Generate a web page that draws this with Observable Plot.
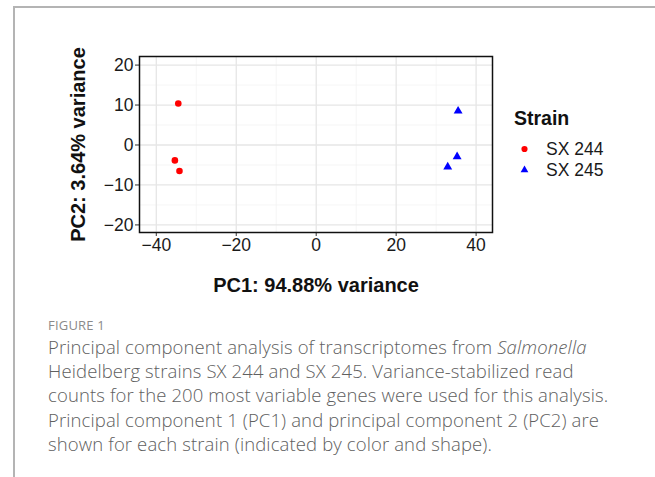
<!DOCTYPE html>
<html><head><meta charset="utf-8">
<script src="https://cdn.jsdelivr.net/npm/d3@7"></script>
<script src="https://cdn.jsdelivr.net/npm/@observablehq/plot@0.6"></script>
<style>
html,body{margin:0;padding:0;background:#fff}
body{width:655px;height:477px;overflow:hidden;position:relative;font-family:"Liberation Sans",Arial,sans-serif}
#frameL{position:absolute;left:13px;top:6px;width:2px;height:471px;background:#b4b4b4}
#frameT{position:absolute;left:13px;top:6px;width:642px;height:2px;background:#b4b4b4}
#chart{position:absolute;left:0;top:0}
#legend{position:absolute;left:0;top:0;width:655px;height:300px;pointer-events:none}
#caption{position:absolute;left:48px;top:316px;font-family:"Open Sans",sans-serif;font-weight:300;color:#606060;font-size:18.5px;letter-spacing:0.12px;line-height:24.2px}
#caption .fig{font-size:13px;font-weight:400;color:#8a8a8a;line-height:18px;margin-bottom:1px;letter-spacing:0.2px}
</style></head>
<body>
<div id="frameL"></div><div id="frameT"></div>
<div id="chart"></div>
<svg id="legend"></svg>
<div id="caption">
<div class="fig">FIGURE 1</div>
Principal component analysis of transcriptomes from <i>Salmonella</i><br>
Heidelberg strains SX 244 and SX 245. Variance-stabilized read<br>
counts for the 200 most variable genes were used for this analysis.<br>
Principal component 1 (PC1) and principal component 2 (PC2) are<br>
shown for each strain (indicated by color and shape).
</div>
<script>
// ---- data ----
const sampleStrain = ["SX 244", "SX 244", "SX 244", "SX 245", "SX 245", "SX 245"];
const pc1 = [-34.5, -35.35, -34.2, 35.5, 35.25, 32.9];
const pc2 = [10.4, -3.85, -6.5, 8.5, -2.9, -5.5];
const strains = ["SX 244", "SX 245"];
const strainColors = ["#ff0000", "#0000ff"];
const strainSymbols = ["circle", "triangle"];
const xTicks = [-40, -20, 0, 20, 40];
const xMinor = [-30, -10, 10, 30];
const yTicks = [-20, -10, 0, 10, 20];
const yMinor = [-15, -5, 5, 15];
const xTitle = "PC1: 94.88% variance";
const yTitle = "PC2: 3.64% variance";
const legendTitle = "Strain";

const rows = pc1.map((v, i) => ({pc1: v, pc2: pc2[i], strain: sampleStrain[i]}));

const chart = Plot.plot({
  width: 655, height: 300,
  marginLeft: 139, marginRight: 163, marginTop: 56, marginBottom: 68,
  x: {domain: [-44.2, 44.1]},
  y: {domain: [-21.9, 22.15]},
  color: {domain: strains, range: strainColors},
  symbol: {domain: strains, range: strainSymbols},
  style: {fontFamily: "'Liberation Sans', Arial, sans-serif", fontSize: "17.5px", color: "#1a1a1a", background: "transparent"},
  marks: [
    Plot.gridX(xMinor, {stroke: "#f0f0f0", strokeOpacity: 1, strokeWidth: 0.7}),
    Plot.gridY(yMinor, {stroke: "#f0f0f0", strokeOpacity: 1, strokeWidth: 0.7}),
    Plot.gridX(xTicks, {stroke: "#e6e6e6", strokeOpacity: 1, strokeWidth: 1.3}),
    Plot.gridY(yTicks, {stroke: "#e6e6e6", strokeOpacity: 1, strokeWidth: 1.3}),
    Plot.axisX(xTicks, {label: null, tickSize: 4, tickPadding: 2, stroke: "#333", fill: "#1a1a1a", fontSize: 17.5}),
    Plot.axisY(yTicks, {label: null, tickSize: 4, tickPadding: 2, stroke: "#333", fill: "#1a1a1a", fontSize: 17.5}),
    Plot.frame({stroke: "#111", strokeWidth: 1.5}),
    Plot.dot(rows, {x: "pc1", y: "pc2", fill: "strain", symbol: "strain", r: 3.3, stroke: "none"}),
    Plot.text([xTitle], {frameAnchor: "bottom", lineAnchor: "middle", textAnchor: "middle", dy: 53, fontSize: 20, fontWeight: "bold", fill: "#111"}),
    Plot.text([yTitle], {frameAnchor: "left", lineAnchor: "middle", textAnchor: "middle", rotate: -90, dx: -61, fontSize: 20, fontWeight: "bold", fill: "#111"})
  ]
});
document.getElementById("chart").appendChild(chart);

// ---- legend ----
const lg = d3.select("#legend");
lg.append("text").attr("x", 514).attr("y", 125).attr("font-size", 19.5).attr("font-weight", "bold")
  .attr("fill", "#111").attr("font-family", "'Liberation Sans', Arial, sans-serif").text(legendTitle);
const symType = {circle: d3.symbolCircle, triangle: d3.symbolTriangle};
strains.forEach((s, i) => {
  const cy = 149 + i * 21;
  lg.append("path").attr("transform", `translate(524.5,${cy})`)
    .attr("d", d3.symbol(symType[strainSymbols[i]], i === 0 ? 30 : 26)())
    .attr("fill", strainColors[i]);
  lg.append("text").attr("x", 546).attr("y", cy + 6).attr("font-size", 17.5)
    .attr("fill", "#1a1a1a").attr("font-family", "'Liberation Sans', Arial, sans-serif").text(s);
});
</script>
</body></html>
